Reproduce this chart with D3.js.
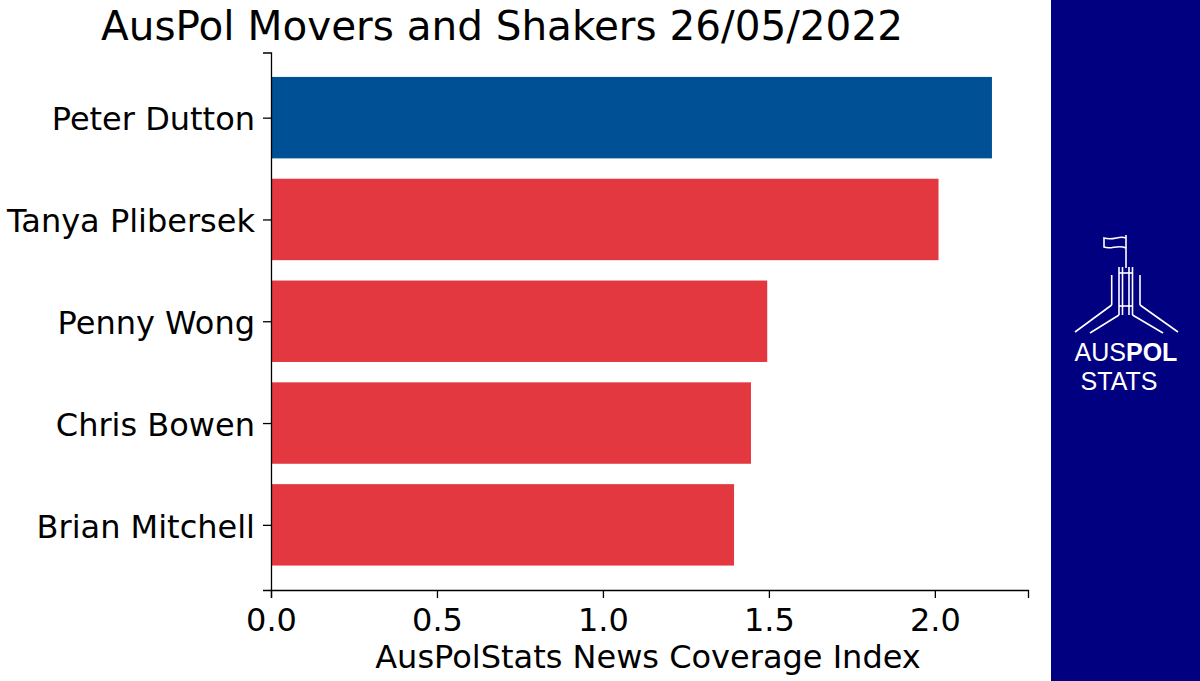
<!DOCTYPE html>
<html><head><meta charset="utf-8">
<script src="https://cdn.jsdelivr.net/npm/d3@7"></script>
<style>body{margin:0;background:#fff}svg{display:block}</style>
</head><body>
<svg id="c" width="1200" height="681"></svg>
<script>
const names = ["Peter Dutton","Tanya Plibersek","Penny Wong","Chris Bowen","Brian Mitchell"];
const values = [2.172, 2.011, 1.495, 1.446, 1.395];
const colors = ["#005096","#e43841","#e43841","#e43841","#e43841"];
const xTicks = [0, 0.5, 1.0, 1.5, 2.0];
const title = "AusPol Movers and Shakers 26/05/2022";
const xLabel = "AusPolStats News Coverage Index";

const svg = d3.select("#c");
const font = "DejaVu Sans, sans-serif";
const L = 271, R = 1028, T = 52.5, B = 590;
const x = d3.scaleLinear().domain([0, d3.max(values)*1.05]).range([L, R]);
const yc = d3.scaleLinear().domain([-0.64, names.length - 1 + 0.64]).range([T, B]);

svg.append("text").attr("x", 502).attr("y", 40).attr("text-anchor","middle")
  .attr("font-family", font).attr("font-size", 40.5).attr("fill","#000").text(title);

svg.selectAll("rect.bar").data(values).enter().append("rect").attr("class","bar")
  .attr("x", x(0)).attr("width", d => x(d) - x(0))
  .attr("y", (d,i) => yc(i - 0.4)).attr("height", (d,i) => yc(i+0.4) - yc(i-0.4))
  .attr("fill", (d,i) => colors[i]);

// axes
const xAxis = d3.axisBottom(x).tickValues(xTicks).tickFormat(d3.format(".1f")).tickSizeOuter(0).tickSize(8).tickPadding(10);
const gx = svg.append("g").attr("transform", `translate(0,${B})`).call(xAxis);
gx.selectAll("text").attr("font-family", font).attr("font-size", 32).attr("fill","#000");
gx.selectAll("line").attr("stroke","#000").attr("stroke-width",1.3);
gx.select(".domain").attr("stroke","#000").attr("stroke-width",1.3);

const y = d3.scaleLinear().domain(yc.domain()).range(yc.range());
const yAxis = d3.axisLeft(y).tickValues(d3.range(names.length)).tickFormat(i => names[i]).tickSizeOuter(0).tickSize(8).tickPadding(8);
const gy = svg.append("g").attr("transform", `translate(${L},0)`).call(yAxis);
gy.selectAll("text").attr("font-family", font).attr("font-size", 32).attr("fill","#000").attr("dy","0.38em");
gy.selectAll("line").attr("stroke","#000").attr("stroke-width",1.3);
gy.select(".domain").attr("stroke","#000").attr("stroke-width",1.3);

svg.append("text").attr("x", 648).attr("y", 668).attr("text-anchor","middle")
  .attr("font-family", font).attr("font-size", 32).attr("fill","#000").text(xLabel);

// side panel + logo
svg.append("rect").attr("x",1051).attr("y",0).attr("width",149).attr("height",681).attr("fill","#000080");
const lg = svg.append("g").attr("stroke","#fff").attr("stroke-width",1.6).attr("fill","none");
// flag pole
lg.append("line").attr("x1",1126).attr("y1",235).attr("x2",1126).attr("y2",268);
lg.append("path").attr("d","M1126,238 C1119,235 1114,241 1104,238 L1104,247 C1111,250 1118,244 1126,248");
// central verticals
[1119,1122.5,1129,1132.5].forEach(v => lg.append("line").attr("x1",v).attr("y1",267).attr("x2",v).attr("y2",315));
lg.append("line").attr("x1",1119).attr("y1",273).attr("x2",1132.5).attr("y2",273);
lg.append("line").attr("x1",1119).attr("y1",306).attr("x2",1132.5).attr("y2",306);
// outer verticals
lg.append("line").attr("x1",1111.7).attr("y1",275).attr("x2",1111.7).attr("y2",305);
lg.append("line").attr("x1",1140).attr("y1",275).attr("x2",1140).attr("y2",305);
// diagonals
lg.append("line").attr("x1",1111.7).attr("y1",305).attr("x2",1075).attr("y2",332);
lg.append("line").attr("x1",1119).attr("y1",315).attr("x2",1090).attr("y2",333);
lg.append("line").attr("x1",1140).attr("y1",305).attr("x2",1178).attr("y2",332);
lg.append("line").attr("x1",1132.5).attr("y1",315).attr("x2",1163).attr("y2",333);
const t1 = svg.append("text").attr("x",1126).attr("y",361).attr("text-anchor","middle")
  .attr("font-family","Liberation Sans, Arial, sans-serif").attr("font-size",25).attr("fill","#fff");
t1.append("tspan").text("AUS");
t1.append("tspan").attr("font-weight","bold").text("POL");
svg.append("text").attr("x",1119).attr("y",390).attr("text-anchor","middle")
  .attr("font-family","Liberation Sans, Arial, sans-serif").attr("font-size",25).attr("fill","#fff").text("STATS");
</script>
</body></html>
